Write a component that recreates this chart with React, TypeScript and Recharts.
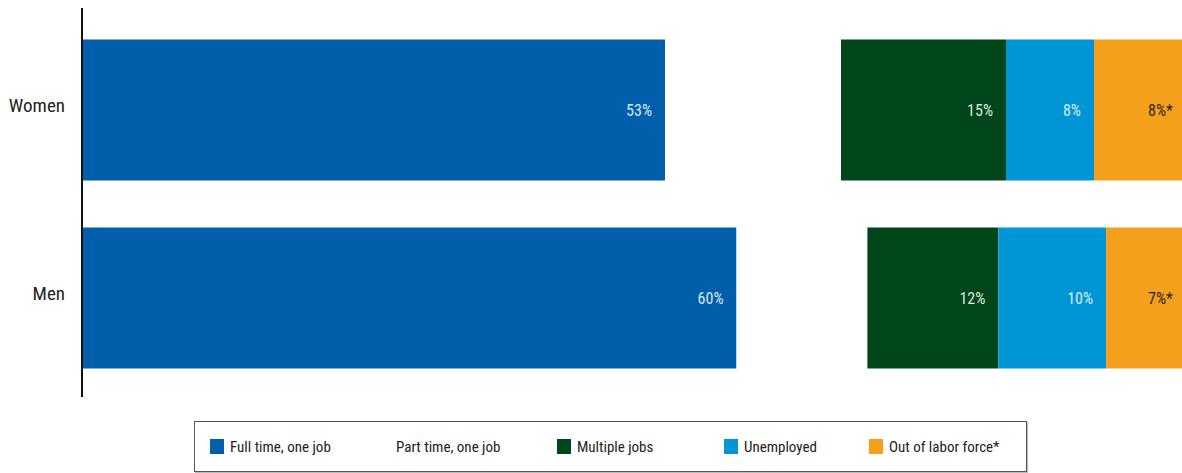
import React from 'react';
import { BarChart, Bar, XAxis, YAxis, LabelList } from 'recharts';

const categories = ['Women', 'Men'];
const fullTimeOneJob = [53, 59.5];
const partTimeOneJob = [16, 11.9];
const multipleJobs = [15, 11.9];
const unemployed = [8, 9.8];
const outOfLaborForce = [8, 6.9];

const seriesNames = ['Full time, one job', 'Part time, one job', 'Multiple jobs', 'Unemployed', 'Out of labor force*'];
const seriesKeys = ['full', 'part', 'multi', 'unemp', 'out'];
const seriesColors = ['#005eaa', '#ffffff', '#00461a', '#0096d6', '#f5a01c'];
const labelColors = ['#dbe6f2', 'none', '#dbe8dc', '#d6ecf8', '#2e2510'];
const labelSuffix = ['%', '', '%', '%', '%*'];

const data = categories.map((name, i) => ({
	name,
	full: fullTimeOneJob[i],
	part: partTimeOneJob[i],
	multi: multipleJobs[i],
	unemp: unemployed[i],
	out: outOfLaborForce[i],
}));

const FONT = '"Liberation Sans Narrow", "Roboto Condensed", "DejaVu Sans Condensed", "Liberation Sans", sans-serif';

// legend item left offsets inside the box
const legendLeft = [15, 181, 362, 529, 674];

function CategoryTick(props: any) {
	const { x, y, payload } = props;
	return (
		<text x={x} y={y} dy={-4} textAnchor='end' dominantBaseline='central' fill='#222' fontSize={19} fontFamily={FONT}>
			{payload.value}
		</text>
	);
}

export default function App() {
	return (
		// pinned to the viewport so the page never scrolls
		<div style={{ position: 'fixed', left: 0, top: 0, width: 1182, height: 473, background: '#fff', fontFamily: FONT }}>
			<div style={{ position: 'absolute', left: 8, top: 8 }}>
				<BarChart
					width={1174}
					height={389}
					data={data}
					layout='vertical'
					margin={{ top: 0, right: 0, bottom: 0, left: 0 }}
					barSize={141}
				>
					<XAxis type='number' domain={[0, 100]} allowDataOverflow hide />
					<YAxis
						type='category'
						dataKey='name'
						width={74}
						tickLine={false}
						tickSize={0}
						tickMargin={17}
						axisLine={{ stroke: '#111', strokeWidth: 2 }}
						padding={{ top: 7.5, bottom: 5.5 }}
						tick={<CategoryTick />}
					/>
					{seriesKeys.map((key, i) => (
						<Bar key={key} dataKey={key} stackId='a' fill={seriesColors[i]} isAnimationActive={false}>
							{labelColors[i] !== 'none' && (
								<LabelList
									dataKey={key}
									position='insideRight'
									offset={i === 4 ? 9 : 13}
									fill={labelColors[i]}
									fontSize={16}
									fontFamily={FONT}
									formatter={(v: any) => `${Math.round(Number(v))}${labelSuffix[i]}`}
								/>
							)}
						</Bar>
					))}
				</BarChart>
			</div>
			<div
				style={{
					position: 'absolute',
					left: 194,
					top: 421,
					width: 831,
					height: 49,
					border: '1px solid #555',
					boxShadow: '1px 1px 1px #bbb',
					background: '#fff',
				}}
			>
				{seriesNames.map((name, i) => (
					<div
						key={name}
						style={{
							position: 'absolute',
							left: legendLeft[i],
							top: 0,
							height: 49,
							display: 'flex',
							alignItems: 'center',
							gap: 6,
							fontSize: 15,
							color: '#222',
						}}
					>
						<span style={{ width: 14, height: 15, background: seriesColors[i], display: 'inline-block' }} />
						<span>{name}</span>
					</div>
				))}
			</div>
		</div>
	);
}
